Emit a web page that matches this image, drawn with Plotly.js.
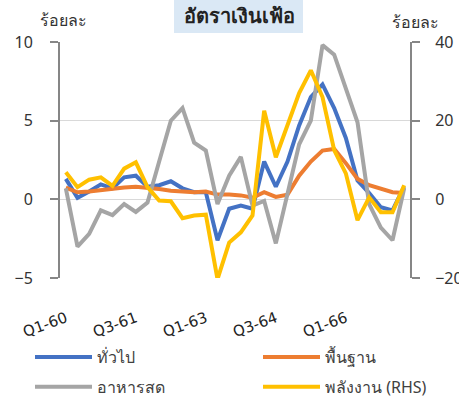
<!DOCTYPE html>
<html>
<head>
<meta charset="utf-8">
<script src="https://cdn.plot.ly/plotly-3.0.1.min.js"></script>
<style>html,body{margin:0;padding:0;background:#fff;}#chart{width:459px;height:400px;}</style>
</head>
<body>
<div id="chart"></div>
<script>
// Quarter categories Q1-60 ... Q2-67
const quarters = [
  "Q1-60","Q2-60","Q3-60","Q4-60",
  "Q1-61","Q2-61","Q3-61","Q4-61",
  "Q1-62","Q2-62","Q3-62","Q4-62",
  "Q1-63","Q2-63","Q3-63","Q4-63",
  "Q1-64","Q2-64","Q3-64","Q4-64",
  "Q1-65","Q2-65","Q3-65","Q4-65",
  "Q1-66","Q2-66","Q3-66","Q4-66",
  "Q1-67","Q2-67"
];
const tickLabels = ["Q1-60","Q3-61","Q1-63","Q3-64","Q1-66"];

const headline = [1.3,0.1,0.5,0.95,0.7,1.4,1.5,0.8,0.9,1.15,0.7,0.45,0.45,-2.6,-0.6,-0.4,-0.6,2.4,0.8,2.4,4.7,6.5,7.3,5.8,3.9,1.2,0.4,-0.5,-0.7,0.8];
const core     = [0.75,0.45,0.5,0.6,0.65,0.75,0.8,0.75,0.65,0.55,0.5,0.45,0.5,0.3,0.3,0.25,0.1,0.45,0.15,0.3,1.5,2.4,3.1,3.2,2.3,1.3,0.9,0.65,0.45,0.4];
const freshFood= [0.7,-3.0,-2.2,-0.7,-1.0,-0.3,-0.8,-0.2,2.4,5.0,5.8,3.6,3.1,-0.3,1.5,2.7,-0.4,-0.1,-2.8,0.3,3.5,5.0,9.8,9.2,7.1,4.9,-0.3,-1.8,-2.6,0.7];
const energy   = [6.9,3.1,5.0,5.6,3.4,7.8,9.4,3.1,-0.3,-0.5,-4.8,-4.1,-3.9,-20.3,-11,-8.4,-4.1,22.5,10.7,19,27,32.8,26,12.5,6.6,-5.3,0.5,-3.3,-3.3,3.6];

const names = ["ทั่วไป","พื้นฐาน","อาหารสด","พลังงาน (RHS)"];
const colors = ["#4472C4","#ED7D31","#A5A5A5","#FFC000"];

const thaiFont = "Noto Sans, Tahoma, sans-serif";

function tr(y, i, axis, legend, group){
  return {x: quarters, y: y, type: "scatter", mode: "lines", name: names[i],
    line: {color: colors[i], width: 4}, yaxis: axis, legend: legend, legendgroup: group};
}

const data = [
  tr(headline, 0, "y", "legend", "a"),
  tr(core, 1, "y", "legend2", "b"),
  tr(freshFood, 2, "y", "legend", "c"),
  tr(energy, 3, "y2", "legend2", "d")
];

const legendCommon = {
  orientation: "v", xref: "container", yref: "container", yanchor: "top", xanchor: "left",
  font: {family: thaiFont, size: 16, color: "#404040"}, bgcolor: "rgba(0,0,0,0)",
  tracegroupgap: 6, traceorder: "grouped", itemwidth: 57
};

const layout = {
  width: 459, height: 400,
  margin: {l: 60, r: 49, t: 42, b: 122, autoexpand: false},
  paper_bgcolor: "#fff", plot_bgcolor: "#fff",
  showlegend: true,
  title: {text: "<b>อัตราเงินเฟ้อ</b>", font: {family: thaiFont, size: 20, color: "#222"},
    xref: "container", yref: "container", x: 0.521, y: 0.96, xanchor: "center", yanchor: "middle"},
  xaxis: {type: "category", range: [-0.5, 29.5], tickmode: "array", tickvals: tickLabels, ticktext: tickLabels,
    tickangle: -20, showgrid: false, zeroline: false, showline: false, ticks: "",
    ticklabelstandoff: 28, tickfont: {family: "DejaVu Sans", size: 15, color: "#222"}},
  yaxis: {range: [-5, 10], dtick: 5, tick0: 0, showgrid: true, gridcolor: "#d9d9d9", gridwidth: 1.5,
    zeroline: false, showline: true, linecolor: "#868686", linewidth: 2, ticks: "outside", ticklen: 8,
    tickcolor: "#868686", tickwidth: 2, ticklabelstandoff: 14,
    tickfont: {family: "Noto Sans", size: 16, color: "#333"}},
  yaxis2: {range: [-20, 40], dtick: 20, tick0: 0, overlaying: "y", side: "right", showgrid: false,
    zeroline: false, showline: true, linecolor: "#868686", linewidth: 2, ticks: "outside", ticklen: 8,
    tickcolor: "#868686", tickwidth: 2, ticklabelstandoff: 12,
    tickfont: {family: "Noto Sans", size: 16, color: "#333"}},
  legend: Object.assign({}, legendCommon, {x: 30/459, y: 1 - 340/400}),
  legend2: Object.assign({}, legendCommon, {x: 258/459, y: 1 - 340/400}),
  shapes: [{type: "rect", xref: "paper", yref: "paper", x0: (174-60)/350, x1: (303-60)/350,
    y0: (278-33)/236, y1: (278-0)/236, fillcolor: "#DAE8F5", line: {width: 0}, layer: "below"}],
  annotations: [
    {text: "ร้อยละ", xref: "paper", yref: "paper", x: (63-60)/350, y: (278-20)/236,
      xanchor: "center", yanchor: "middle", showarrow: false, font: {family: thaiFont, size: 16, color: "#333"}},
    {text: "ร้อยละ", xref: "paper", yref: "paper", x: (415-60)/350, y: (278-22)/236,
      xanchor: "center", yanchor: "middle", showarrow: false, font: {family: thaiFont, size: 16, color: "#333"}}
  ]
};

Plotly.newPlot("chart", data, layout, {displayModeBar: false, staticPlot: true});
</script>
</body>
</html>
